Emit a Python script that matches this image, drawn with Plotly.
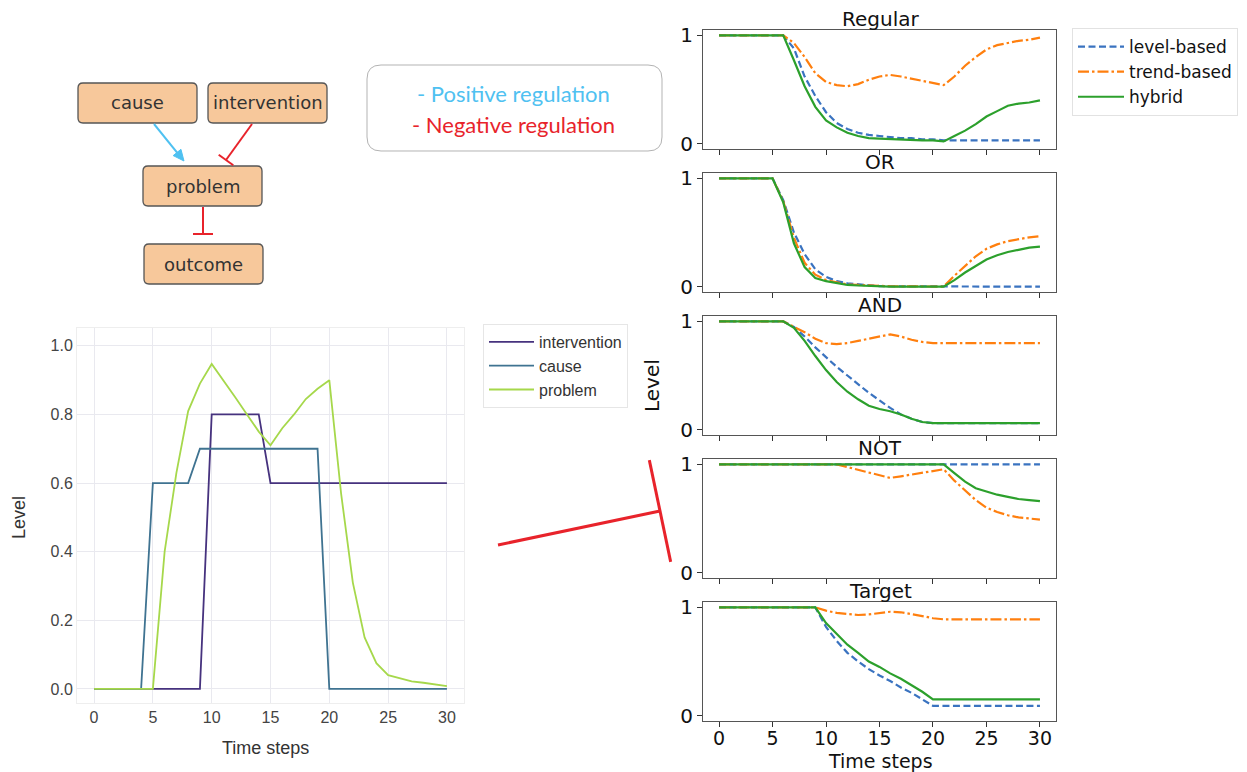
import math
import plotly.graph_objects as go

# page body has an 8px margin: the figure is sized to fill the rest of the window
OFF = 8
W, H = 1239, 764

# ---------------- data ----------------
time_steps = [0, 1, 2, 3, 4, 5, 6, 7, 8, 9, 10, 11, 12, 13, 14, 15,
              16, 17, 18, 19, 20, 21, 22, 23, 24, 25, 26, 27, 28, 29, 30]

# left chart (input signals)
intervention = [0, 0, 0, 0, 0, 0, 0, 0, 0, 0, 0.8, 0.8, 0.8, 0.8, 0.8, 0.6,
                0.6, 0.6, 0.6, 0.6, 0.6, 0.6, 0.6, 0.6, 0.6, 0.6, 0.6, 0.6, 0.6, 0.6, 0.6]
cause = [0, 0, 0, 0, 0, 0.6, 0.6, 0.6, 0.6, 0.7, 0.7, 0.7, 0.7, 0.7, 0.7, 0.7,
         0.7, 0.7, 0.7, 0.7, 0, 0, 0, 0, 0, 0, 0, 0, 0, 0, 0]
problem = [0, 0, 0, 0, 0, 0, 0.40, 0.63, 0.81, 0.89, 0.947, 0.90, 0.85, 0.80, 0.75, 0.71,
           0.76, 0.80, 0.845, 0.875, 0.90, 0.57, 0.31, 0.15, 0.075, 0.04, 0.03, 0.022, 0.018, 0.012, 0.008]
left_names = ["intervention", "cause", "problem"]
left_colors = ["#46327e", "#3f7391", "#a6d84b"]
left_xticks = [0, 5, 10, 15, 20, 25, 30]
left_yticks = [0.0, 0.2, 0.4, 0.6, 0.8, 1.0]

# right panels (outcome levels)
panel_titles = ["Regular", "OR", "AND", "NOT", "Target"]
method_names = ["level-based", "trend-based", "hybrid"]

regular_level = [1, 1, 1, 1, 1, 1, 1, 0.88, 0.62, 0.44, 0.29, 0.19, 0.135, 0.10, 0.08, 0.07,
                 0.06, 0.05, 0.05, 0.04, 0.04, 0.03, 0.03, 0.03, 0.03, 0.03, 0.03, 0.03, 0.03, 0.03, 0.03]
regular_trend = [1, 1, 1, 1, 1, 1, 1, 0.93, 0.80, 0.65, 0.57, 0.54, 0.53, 0.55, 0.59, 0.62,
                 0.635, 0.62, 0.60, 0.58, 0.56, 0.54, 0.62, 0.72, 0.80, 0.87, 0.91, 0.93, 0.95, 0.96, 0.98]
regular_hybrid = [1, 1, 1, 1, 1, 1, 1, 0.77, 0.53, 0.34, 0.215, 0.15, 0.10, 0.07, 0.05, 0.045,
                  0.04, 0.04, 0.035, 0.03, 0.03, 0.02, 0.07, 0.12, 0.18, 0.25, 0.30, 0.35, 0.37, 0.38, 0.40]

or_level = [1, 1, 1, 1, 1, 1, 0.80, 0.50, 0.30, 0.16, 0.09, 0.05, 0.03, 0.02, 0.01, 0.005,
            0.003, 0.002, 0.001, 0, 0, 0, 0, 0, 0, 0, 0, 0, 0, 0, 0]
or_trend = [1, 1, 1, 1, 1, 1, 0.79, 0.45, 0.22, 0.11, 0.06, 0.04, 0.02, 0.015, 0.01, 0.005,
            0.003, 0.002, 0.001, 0, 0, 0, 0.10, 0.19, 0.28, 0.35, 0.39, 0.42, 0.44, 0.455, 0.465]
or_hybrid = [1, 1, 1, 1, 1, 1, 0.78, 0.40, 0.18, 0.08, 0.05, 0.03, 0.015, 0.01, 0.005, 0,
             0, 0, 0, 0, 0, 0, 0.06, 0.13, 0.19, 0.25, 0.29, 0.32, 0.34, 0.36, 0.37]

and_level = [1, 1, 1, 1, 1, 1, 1, 0.95, 0.86, 0.76, 0.67, 0.58, 0.50, 0.42, 0.34, 0.27,
             0.20, 0.14, 0.10, 0.07, 0.06, 0.06, 0.06, 0.06, 0.06, 0.06, 0.06, 0.06, 0.06, 0.06, 0.06]
and_trend = [1, 1, 1, 1, 1, 1, 1, 0.95, 0.90, 0.84, 0.80, 0.79, 0.80, 0.82, 0.84, 0.86,
             0.88, 0.86, 0.83, 0.81, 0.80, 0.80, 0.80, 0.80, 0.80, 0.80, 0.80, 0.80, 0.80, 0.80, 0.80]
and_hybrid = [1, 1, 1, 1, 1, 1, 1, 0.94, 0.82, 0.68, 0.55, 0.44, 0.35, 0.28, 0.22, 0.19,
              0.17, 0.14, 0.10, 0.07, 0.06, 0.06, 0.06, 0.06, 0.06, 0.06, 0.06, 0.06, 0.06, 0.06, 0.06]

not_level = [1, 1, 1, 1, 1, 1, 1, 1, 1, 1, 1, 1, 1, 1, 1, 1,
             1, 1, 1, 1, 1, 1, 1, 1, 1, 1, 1, 1, 1, 1, 1]
not_trend = [1, 1, 1, 1, 1, 1, 1, 1, 1, 1, 1, 1, 0.975, 0.95, 0.92, 0.895,
             0.875, 0.89, 0.905, 0.92, 0.94, 0.955, 0.85, 0.76, 0.67, 0.60, 0.56, 0.53, 0.51, 0.50, 0.49]
not_hybrid = [1, 1, 1, 1, 1, 1, 1, 1, 1, 1, 1, 1, 1, 1, 1, 1,
              1, 1, 1, 1, 1, 1, 0.92, 0.84, 0.78, 0.75, 0.72, 0.70, 0.68, 0.67, 0.66]

target_level = [1, 1, 1, 1, 1, 1, 1, 1, 1, 1, 0.82, 0.69, 0.58, 0.50, 0.43, 0.37,
                0.32, 0.26, 0.21, 0.15, 0.09, 0.09, 0.09, 0.09, 0.09, 0.09, 0.09, 0.09, 0.09, 0.09, 0.09]
target_trend = [1, 1, 1, 1, 1, 1, 1, 1, 1, 1, 0.97, 0.95, 0.94, 0.93, 0.935, 0.95,
                0.96, 0.955, 0.94, 0.92, 0.90, 0.89, 0.89, 0.89, 0.89, 0.89, 0.89, 0.89, 0.89, 0.89, 0.89]
target_hybrid = [1, 1, 1, 1, 1, 1, 1, 1, 1, 1, 0.855, 0.75, 0.655, 0.58, 0.50, 0.45,
                 0.39, 0.34, 0.28, 0.22, 0.15, 0.15, 0.15, 0.15, 0.15, 0.15, 0.15, 0.15, 0.15, 0.15, 0.15]

panel_series = [
    [regular_level, regular_trend, regular_hybrid],
    [or_level, or_trend, or_hybrid],
    [and_level, and_trend, and_hybrid],
    [not_level, not_trend, not_hybrid],
    [target_level, target_trend, target_hybrid],
]
right_xticks = [0, 5, 10, 15, 20, 25, 30]
right_yticks = [0, 1]

# diagram text
node_labels = ["cause", "intervention", "problem", "outcome"]
key_texts = ["- Positive regulation", "- Negative regulation"]

# ---------------- styling ----------------
method_colors = ["#3a73c0", "#ff7f0e", "#2ca02c"]
method_dash = ["7px,3.5px", "11px,3px,2.5px,3px", "solid"]
POS_COLOR = "#4fc1f1"
NEG_COLOR = "#e8232b"
NODE_FILL = "#f7c89b"


def X(p):
    """screen x pixel -> paper fraction"""
    return (p - OFF) / W


def Y(p):
    """screen y pixel -> paper fraction"""
    return 1 - (p - OFF) / H


fig = go.Figure()

# left chart
for name, vals, col in zip(left_names, [intervention, cause, problem], left_colors):
    fig.add_trace(go.Scatter(x=time_steps, y=vals, mode="lines", name=name,
                             line=dict(color=col, width=1.8),
                             xaxis="x", yaxis="y", legend="legend"))

# right panels
for i, series in enumerate(panel_series):
    ax = str(i + 2)
    for j, vals in enumerate(series):
        fig.add_trace(go.Scatter(x=time_steps, y=vals, mode="lines", name=method_names[j],
                                 line=dict(color=method_colors[j], width=2.2, dash=method_dash[j]),
                                 xaxis="x" + ax, yaxis="y" + ax, legend="legend2",
                                 showlegend=(i == 0)))

layout = dict(
    width=W, height=H,
    margin=dict(l=0, r=0, t=0, b=0, pad=0, autoexpand=False),
    paper_bgcolor="white", plot_bgcolor="white",
    showlegend=True,
    legend=dict(x=X(483), y=Y(324), xanchor="left", yanchor="top",
                font=dict(family="Liberation Sans", size=16, color="#333"),
                bordercolor="#e6e6e6", borderwidth=1, bgcolor="white",
                tracegroupgap=0, itemwidth=45),
    legend2=dict(x=X(1072), y=Y(28), xanchor="left", yanchor="top",
                 font=dict(family="DejaVu Sans", size=17, color="#111"),
                 bordercolor="#e2e2e2", borderwidth=1, bgcolor="white", itemwidth=46),
)

layout["xaxis"] = dict(domain=[X(77), X(464)], range=[-1.45, 31.45], anchor="y",
                       tickvals=left_xticks, showgrid=True, gridcolor="#e9e9ef", zeroline=False,
                       showline=True, mirror=True, linecolor="#eeeeee", automargin=False,
                       tickfont=dict(family="Liberation Sans", size=16, color="#444"))
layout["yaxis"] = dict(domain=[Y(703), Y(328)], range=[-0.041, 1.052], anchor="x",
                       tickvals=left_yticks, tickformat=".1f", showgrid=True, gridcolor="#e9e9ef",
                       zeroline=False, showline=True, mirror=True, linecolor="#eeeeee", automargin=False,
                       tickfont=dict(family="Liberation Sans", size=16, color="#444"))

tops = [30, 173, 316, 459, 602]
PH = 119
for i, top in enumerate(tops):
    ax = str(i + 2)
    layout["xaxis" + ax] = dict(domain=[X(703), X(1056)], range=[-1.5, 31.5], anchor="y" + ax,
                                tickvals=right_xticks, showticklabels=(i == 4),
                                ticks="outside", ticklen=5, tickcolor="#333", automargin=False,
                                ticklabelstandoff=-5,
                                showgrid=False, zeroline=False, showline=True, mirror=True,
                                linecolor="#555", linewidth=1,
                                tickfont=dict(family="DejaVu Sans", size=19, color="#111"))
    layout["yaxis" + ax] = dict(domain=[Y(top + PH), Y(top)], range=[-0.05, 1.05], anchor="x" + ax,
                                tickvals=right_yticks, ticks="outside", ticklen=5, tickcolor="#333",
                                showgrid=False, zeroline=False, showline=True, mirror=True,
                                linecolor="#555", linewidth=1, automargin=False,
                                tickfont=dict(family="DejaVu Sans", size=20, color="#111"))

annotations = []


def txt(x, y, s, size, color, family, **kw):
    d = dict(x=X(x), y=Y(y), xref="paper", yref="paper", text=s, showarrow=False,
             font=dict(size=size, color=color, family=family), xanchor="center", yanchor="middle")
    d.update(kw)
    annotations.append(d)


# panel titles
for title, top in zip(panel_titles, tops):
    txt(880, top - 11, title, 20, "#111", "DejaVu Sans")
txt(652, 386, "Level", 20, "#111", "DejaVu Sans", textangle=-90)
txt(880, 761, "Time steps", 19, "#111", "DejaVu Sans")

# left chart axis titles
txt(19, 518, "Level", 18, "#333", "Liberation Sans", textangle=-90)
txt(265, 748, "Time steps", 18, "#333", "Liberation Sans")

# ---------------- diagram ----------------
shapes = []


def rrect(x0, y0, x1, y1, r, fill, line, lw):
    def p(a, b):
        return f"{X(a):.5f},{Y(b):.5f}"
    path = (f"M {p(x0 + r, y0)} L {p(x1 - r, y0)} Q {p(x1, y0)} {p(x1, y0 + r)} "
            f"L {p(x1, y1 - r)} Q {p(x1, y1)} {p(x1 - r, y1)} L {p(x0 + r, y1)} "
            f"Q {p(x0, y1)} {p(x0, y1 - r)} L {p(x0, y0 + r)} Q {p(x0, y0)} {p(x0 + r, y0)} Z")
    shapes.append(dict(type="path", path=path, xref="paper", yref="paper",
                       fillcolor=fill, line=dict(color=line, width=lw), layer="above"))


def seg(x0, y0, x1, y1, color, width):
    shapes.append(dict(type="line", x0=X(x0), y0=Y(y0), x1=X(x1), y1=Y(y1),
                       xref="paper", yref="paper", line=dict(color=color, width=width)))


def inhibit(x0, y0, x1, y1, bar, color, width):
    seg(x0, y0, x1, y1, color, width)
    dx, dy = x1 - x0, y1 - y0
    n = math.hypot(dx, dy)
    px_, py_ = -dy / n, dx / n
    seg(x1 - px_ * bar / 2, y1 - py_ * bar / 2, x1 + px_ * bar / 2, y1 + py_ * bar / 2, color, width)


def activate(x0, y0, x1, y1, color, width, hl=11, hw=5):
    dx, dy = x1 - x0, y1 - y0
    n = math.hypot(dx, dy)
    ux, uy = dx / n, dy / n
    bx, by = x1 - ux * hl, y1 - uy * hl
    seg(x0, y0, bx + ux * 2, by + uy * 2, color, width)
    px_, py_ = -uy, ux
    path = (f"M {X(x1):.5f},{Y(y1):.5f} L {X(bx + px_ * hw):.5f},{Y(by + py_ * hw):.5f} "
            f"L {X(bx - px_ * hw):.5f},{Y(by - py_ * hw):.5f} Z")
    shapes.append(dict(type="path", path=path, xref="paper", yref="paper",
                       fillcolor=color, line=dict(color=color, width=1)))


node_boxes = [(78, 83, 197, 123), (208, 83, 327, 123), (143, 166, 262, 206), (144, 244, 263, 284)]
for (x0, y0, x1, y1), lab in zip(node_boxes, node_labels):
    rrect(x0, y0, x1, y1, 5, NODE_FILL, "#555", 1.3)
    txt((x0 + x1) / 2, (y0 + y1) / 2, lab, 18, "#333", "DejaVu Sans")

activate(154, 124, 184, 161, POS_COLOR, 2)
inhibit(252, 124, 226, 160, 18, NEG_COLOR, 2)
inhibit(203, 207, 203, 234, 20, NEG_COLOR, 2)

# key box
rrect(367, 65, 662, 151, 14, "rgba(255,255,255,0)", "#b3b3b3", 1)
txt(513, 93, key_texts[0], 22, POS_COLOR, "Lato")
txt(513, 124, key_texts[1], 22, NEG_COLOR, "Lato")

# big inhibition between the charts
inhibit(498, 545, 660, 511, 104, NEG_COLOR, 3)

layout["shapes"] = shapes
layout["annotations"] = annotations
fig.update_layout(**layout)

fig.write_html("out.html")
